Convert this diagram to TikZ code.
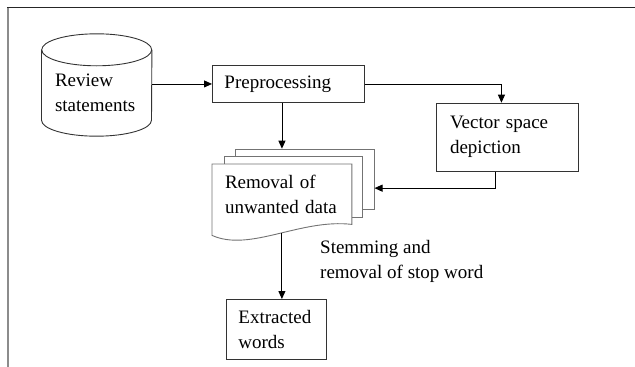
\documentclass[tikz,border=0pt]{standalone}
\usepackage{fontspec}
\setmainfont{Liberation Serif}
\usetikzlibrary{arrows.meta, backgrounds}

\begin{document}
\begin{tikzpicture}[
		x=1pt, y=-1pt,
		font=\fontsize{19}{25}\selectfont,
		% Style for the process boxes
		procbox/.style={draw=black!80, line width=0.9pt, fill=white, align=left, inner ysep=2pt, anchor=north west},
		% Sheets of the document stack
		docsheet/.style={draw=black!55, line width=0.9pt, fill=white, minimum width=138.3pt, minimum height=60.6pt, inner sep=0pt, anchor=north west},
		docline/.style={draw=black!55, line width=0.9pt},
		doctext/.style={align=left, anchor=north west, inner ysep=0pt},
		% Connectors and free text
		flow/.style={line width=0.9pt, -{Triangle[length=8pt, width=7pt]}},
		note/.style={align=left, anchor=north west, inner sep=0pt}
	]
	
	\useasboundingbox (0,0) rectangle (635,367);
	% Frame
	\draw[black!85, line width=1.3pt] (7,7.5) -- (635,7.5);
	\draw[black!45, line width=2pt] (8,7.5) -- (8,367);
	
	% Review statements (cylinder)
	\node[minimum width=110pt, minimum height=86pt, text width=83.4pt, inner xsep=13.3pt, inner ysep=0pt, align=left] (review) at (96.7,93) {Review\\statements};
	\draw[black!80, line width=0.9pt] (review.north west) -- ([yshift=16pt]review.south west)
		arc[start angle=180, end angle=360, x radius=55pt, y radius=16pt] -- (review.north east);
	\draw[black!80, line width=0.9pt] (review.north) ellipse[x radius=55pt, y radius=16pt];
	
	% Preprocessing
	\node[procbox, minimum width=152pt, minimum height=37pt, text width=128pt, inner xsep=12pt] (pre) at (212,65) {Preprocessing};
	
	% Vector space depiction
	\node[procbox, minimum width=142pt, minimum height=68pt, text width=114.8pt, inner xsep=13.6pt] (vec) at (436,102.7) {Vector space\\depiction};
	
	% Document stack
	\node[doctext, minimum width=139.5pt, minimum height=60pt, text width=113.9pt, inner xsep=12.8pt] (removal) at (212,164) {Removal of\\unwanted data};
	\begin{scope}[on background layer]
		\node[docsheet] (doc3) at ([shift={(23.3,-15.3)}]removal.north west) {};
		\node[docsheet] (doc2) at ([shift={(11.6,-7.7)}]removal.north west) {};
		\draw[docline, fill=white] (removal.north west) -- (removal.north east) -- (removal.south east)
			.. controls +(-51.5,-6) and +(38,17) .. coordinate[pos=0.465] (remout) ([yshift=-11pt]removal.south west) -- cycle;
	\end{scope}
	
	% Extracted words
	\node[procbox, minimum width=100.4pt, minimum height=60.3pt, text width=75.6pt, inner xsep=12.4pt] (words) at (225.6,299) {Extracted\\words};
	
	% Label of the last step
	\node[note] (stem) at (320,240) {Stemming and\\removal of stop word};
	
	% Connectors
	\draw[flow] (pre.west -| review.east) -- (pre.west);
	\draw[flow] (pre.east) -| ([xshift=-6pt]vec.north);
	\draw[flow] (pre.south -| removal.north) -- (doc3.north -| removal.north);
	\draw[flow] ([xshift=-12pt]vec.south) |- ([yshift=-8.7pt]doc3.east);
	\draw[flow] (remout) -- (remout |- words.north);
\end{tikzpicture}
\end{document}
